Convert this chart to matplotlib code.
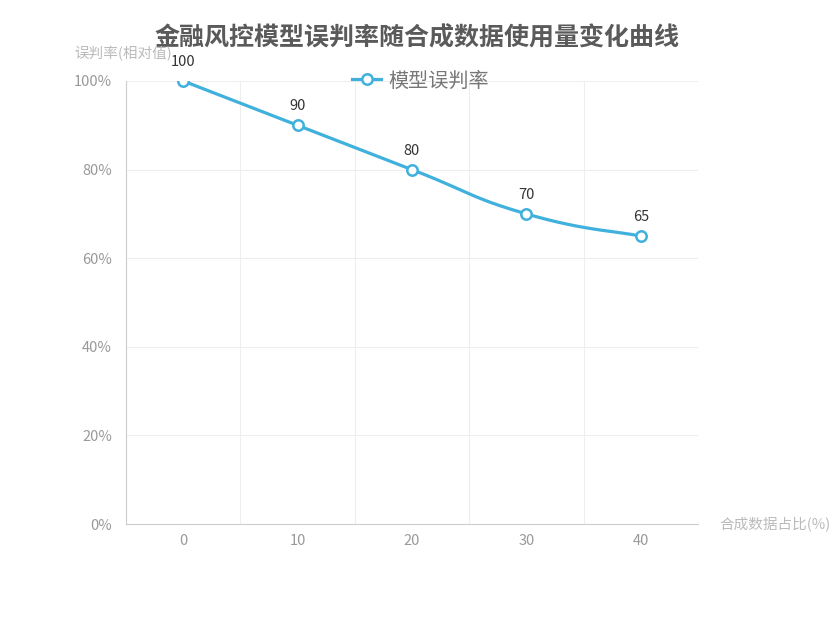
import numpy as np
import matplotlib
matplotlib.use("Agg")
import matplotlib.pyplot as plt

plt.rcParams['font.family'] = ['Noto Sans CJK SC', 'DejaVu Sans']

categories = ['0', '10', '20', '30', '40']
rates = [100, 90, 80, 70, 65]
y_ticks = [0, 20, 40, 60, 80, 100]

color = '#40b0dd'


def smooth_curve(xs, ys, n=40):
    # catmull-rom style smoothing, similar look to echarts smooth line
    xs = np.asarray(xs, float)
    ys = np.asarray(ys, float)
    px, py = [], []
    for i in range(len(xs) - 1):
        x0, y0 = xs[max(i - 1, 0)], ys[max(i - 1, 0)]
        x1, y1 = xs[i], ys[i]
        x2, y2 = xs[i + 1], ys[i + 1]
        x3, y3 = xs[min(i + 2, len(xs) - 1)], ys[min(i + 2, len(ys) - 1)]
        k = 0.25
        c1 = (x1 + (x2 - x0) * k, y1 + (y2 - y0) * k)
        c2 = (x2 - (x3 - x1) * k, y2 - (y3 - y1) * k)
        t = np.linspace(0, 1, n)
        bx = (1 - t) ** 3 * x1 + 3 * (1 - t) ** 2 * t * c1[0] + 3 * (1 - t) * t ** 2 * c2[0] + t ** 3 * x2
        by = (1 - t) ** 3 * y1 + 3 * (1 - t) ** 2 * t * c1[1] + 3 * (1 - t) * t ** 2 * c2[1] + t ** 3 * y2
        px.extend(bx)
        py.extend(by)
    return px, py


fig = plt.figure(figsize=(8.35, 6.25), dpi=100)
ax = fig.add_axes([0.1509, 0.1616, 0.685, 0.7088])

x = np.arange(len(categories))
sx, sy = smooth_curve(x, rates)
ax.plot(sx, sy, color=color, lw=2.3, zorder=3)
line, = ax.plot(x, rates, 'o', color=color, mfc='white', mec=color, mew=1.8, ms=7.5, zorder=4)

for xi, v in zip(x, rates):
    ax.annotate(str(v), (xi, v), xytext=(0, 8.5), textcoords='offset points',
                ha='center', va='bottom', fontsize=10.5, color='#333333')

ax.set_xlim(-0.5, len(categories) - 0.5)
ax.set_ylim(0, 100)
ax.set_xticks(x)
ax.set_xticklabels(categories)
ax.set_xticks(np.arange(len(categories) + 1) - 0.5, minor=True)
ax.set_yticks(y_ticks)
ax.set_yticklabels([f'{t}%' for t in y_ticks])
ax.tick_params(axis='both', which='both', length=0, labelsize=10.5, colors='#999999')
ax.tick_params(axis='x', pad=7)
ax.tick_params(axis='y', pad=10)

ax.grid(True, axis='y', color='#eeeeee', lw=0.8)
ax.grid(True, axis='x', which='minor', color='#eeeeee', lw=0.8)
ax.grid(False, axis='x', which='major')
ax.set_axisbelow(True)
for s in ['top', 'right']:
    ax.spines[s].set_visible(False)
ax.spines['left'].set_color('#cccccc')
ax.spines['bottom'].set_color('#cccccc')

fig.text(0.5, 0.939, '金融风控模型误判率随合成数据使用量变化曲线', ha='center', va='center',
         fontsize=18, fontweight='bold', color='#5a5a5a')
fig.text(0.1475, 0.915, '误判率(相对值)', ha='center', va='center', fontsize=10.5, color='#bbbbbb')
fig.text(0.861, 0.162, '合成数据占比(%)', ha='left', va='center', fontsize=10.5, color='#bbbbbb')

ax.legend([line], ['模型误判率'], loc='center', bbox_to_anchor=(0.515, 1.0),
          frameon=False, fontsize=14.5, labelcolor='#777777', handlelength=1.45,
          handletextpad=0.35)
leg = ax.get_legend()
leg.legend_handles[0].set_linestyle('-')
leg.legend_handles[0].set_linewidth(2.3)

fig.savefig('out.png', dpi=100)
